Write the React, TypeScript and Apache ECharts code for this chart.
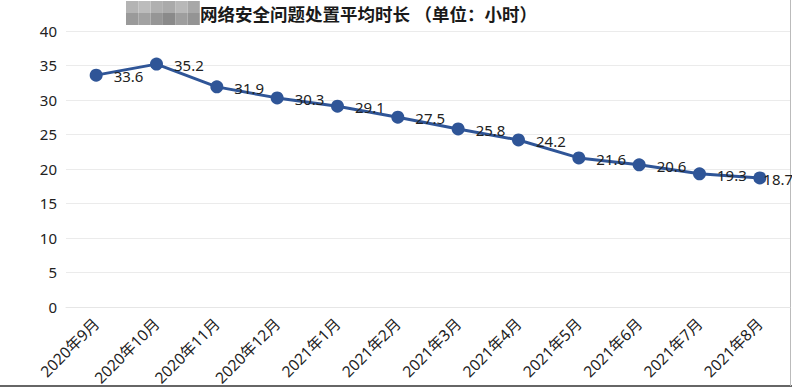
import React, { useEffect, useRef } from "react";
import * as echarts from "echarts";

const categories = [
  "2020年9月", "2020年10月", "2020年11月", "2020年12月",
  "2021年1月", "2021年2月", "2021年3月", "2021年4月",
  "2021年5月", "2021年6月", "2021年7月", "2021年8月",
];
const durations = [33.6, 35.2, 31.9, 30.3, 29.1, 27.5, 25.8, 24.2, 21.6, 20.6, 19.3, 18.7];
const titleText = "网络安全问题处置平均时长 （单位：小时）";
const yMin = 0;
const yMax = 40;
const yInterval = 5;

const FONT = "'Noto Sans', 'Noto Sans CJK SC', sans-serif";

export default function App() {
  const ref = useRef<HTMLDivElement>(null);
  useEffect(() => {
    if (!ref.current) return;
    const chart = echarts.init(ref.current, undefined, { renderer: "svg" });
    const blurTop = ["#b4b4b4", "#bcbcbc", "#b0b0b0", "#aaaaaa", "#b8b8b8", "#a8a8a8"];
    const blurBot = ["#9a9a9a", "#a2a2a2", "#969696", "#8a8a8a", "#9e9e9e", "#949494"];
    const blurRects: any[] = [];
    blurTop.forEach((c, i) =>
      blurRects.push({ type: "rect", shape: { x: 126 + i * 12.3, y: 1, width: 12.3, height: 12 }, style: { fill: c } })
    );
    blurBot.forEach((c, i) =>
      blurRects.push({ type: "rect", shape: { x: 126 + i * 12.3, y: 13, width: 12.3, height: 12 }, style: { fill: c } })
    );
    const lastIdx = durations.length - 1;
    const seriesData = durations.map((v, i) =>
      i === lastIdx ? { value: v, label: { distance: -3 } } : v
    );
    chart.setOption({
      animation: false,
      backgroundColor: "#ffffff",
      grid: { left: 66, right: 2, top: 31, bottom: 81, containLabel: false },
      graphic: [
        ...blurRects,
        {
          type: "text",
          left: 200,
          top: 5,
          style: { text: titleText, fontSize: 17.5, fontWeight: "bold", fill: "#1a1a1a", fontFamily: FONT },
        },
        { type: "line", shape: { x1: 0, y1: 386, x2: 792, y2: 386 }, style: { stroke: "#666", lineWidth: 2 } },
        { type: "line", shape: { x1: 790.5, y1: 0, x2: 790.5, y2: 386 }, style: { stroke: "#bbb", lineWidth: 1 } },
      ],
      xAxis: {
        type: "category",
        data: categories,
        boundaryGap: true,
        axisLine: { show: true, lineStyle: { color: "#e6e6e6" } },
        axisTick: { show: false },
        axisLabel: { rotate: 45, fontSize: 15.5, color: "#222", fontFamily: FONT, margin: 14, interval: 0 },
      },
      yAxis: {
        type: "value",
        min: yMin,
        max: yMax,
        interval: yInterval,
        axisLine: { show: false },
        axisTick: { show: false },
        axisLabel: { fontSize: 15, color: "#222", fontFamily: FONT, margin: 9 },
        splitLine: { lineStyle: { color: "#ebebeb", width: 1 } },
      },
      series: [
        {
          type: "line",
          data: seriesData,
          symbol: "circle",
          symbolSize: 13,
          itemStyle: { color: "#2F5597" },
          lineStyle: { color: "#2F5597", width: 3 },
          label: {
            show: true,
            position: "right",
            distance: 11,
            offset: [0, 1],
            fontSize: 15,
            color: "#222",
            fontFamily: FONT,
          },
        },
      ],
    });
    return () => chart.dispose();
  }, []);
  return (
    <div style={{ position: "absolute", left: 0, top: 0, width: 792, height: 388 }}>
      <div ref={ref} style={{ width: 792, height: 388 }} />
    </div>
  );
}
